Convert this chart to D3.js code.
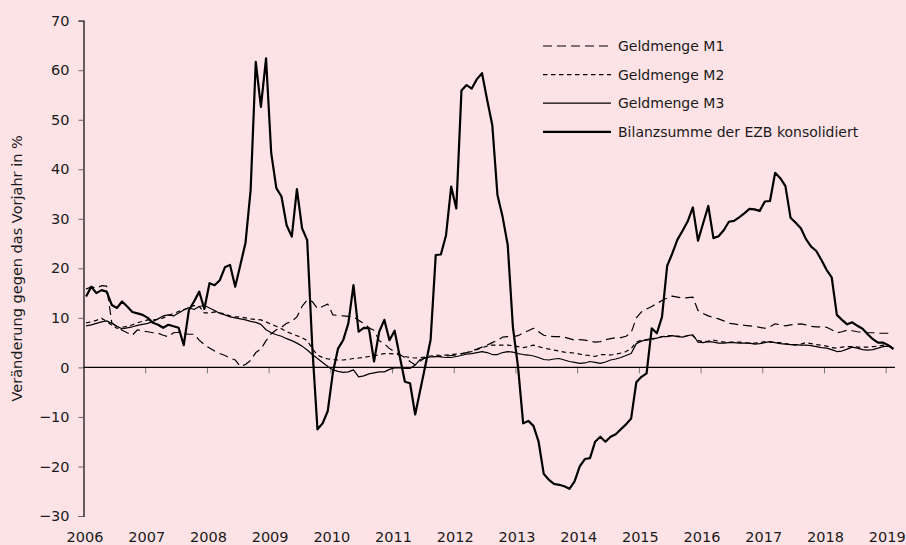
<!DOCTYPE html>
<html>
<head>
<meta charset="utf-8">
<script src="https://cdn.jsdelivr.net/npm/d3@7"></script>
<style>
  html, body { margin: 0; padding: 0; background: #fee3e6; }
  svg { display: block; }
  text { font-family: "DejaVu Sans", sans-serif; fill: #1a1a1a; }
</style>
</head>
<body>
<div id="chart"></div>
<script>
// monthly values, January 2006 to February 2019
var startYear = 2006;

var m1 = [
  15.8, 16.3, 16.0, 16.5, 16.4, 9.0, 8.2, 7.5, 7.0, 6.5, 7.6, 7.3,
  7.2, 7.0, 6.9, 6.5, 6.2, 7.0, 7.1, 6.8, 6.7, 6.7, 5.5, 4.6,
  3.9, 3.3, 2.8, 2.4, 1.9, 1.5, 0.2, 0.6, 1.4, 3.0, 3.7, 5.4,
  6.8, 7.6, 8.1, 8.9, 9.3, 10.2, 12.3, 13.6, 13.3, 11.9, 12.3, 12.8,
  10.6, 10.5, 10.4, 10.3, 10.2, 9.5, 8.9, 8.0, 7.5, 5.4, 4.8, 3.8,
  3.2, 2.6, 2.0, 1.2, 0.5, 1.3, 2.0, 2.1, 2.2, 2.2, 2.3, 2.4,
  2.5, 2.7, 3.0, 3.3, 3.7, 4.1, 4.5, 5.0, 5.5, 6.1, 6.2, 6.2,
  6.4, 7.0, 7.4, 7.9, 7.2, 6.5, 6.3, 6.2, 6.2, 6.1, 5.8, 5.5,
  5.6, 5.5, 5.3, 5.1, 5.2, 5.6, 5.8, 6.0, 6.0, 6.3, 7.0, 10.0,
  11.2, 11.8, 12.3, 12.9, 13.5, 14.0, 14.4, 14.2, 14.0, 14.1, 14.2, 11.5,
  10.9, 10.4, 10.1, 9.8, 9.4, 8.9, 8.8, 8.6, 8.5, 8.4, 8.3, 8.1,
  7.9, 8.2, 8.8, 8.6, 8.4, 8.6, 8.7, 8.8, 8.6, 8.3, 8.2, 8.2,
  8.1, 7.6, 7.0, 7.2, 7.5, 7.4, 7.2, 7.1, 7.0, 7.0, 6.9, 6.9,
  6.9, 6.9
];

var m2 = [
  9.0, 9.2, 9.5, 9.9, 9.3, 8.5, 7.9, 8.1, 8.3, 8.6, 9.0, 9.3,
  9.6, 9.6, 9.7, 10.0, 10.5, 10.9, 11.3, 11.7, 12.0, 12.5, 12.3, 11.0,
  11.0, 11.2, 11.0, 10.8, 10.4, 10.2, 10.2, 10.0, 9.8, 9.7, 9.6, 9.2,
  8.7, 8.3, 7.8, 7.2, 6.8, 6.4, 6.0, 5.4, 3.8, 2.5, 2.0, 1.7,
  1.6, 1.5, 1.5, 1.6, 1.8, 1.9, 2.0, 2.2, 2.3, 2.6, 2.8, 2.8,
  2.7, 2.5, 2.2, 2.0, 1.9, 2.0, 2.1, 2.3, 2.5, 2.4, 2.5, 2.6,
  2.7, 2.8, 3.0, 3.2, 3.6, 4.0, 4.3, 4.5, 4.5, 4.5, 4.5, 4.4,
  4.2, 4.0, 4.2, 4.5, 4.2, 3.9, 3.7, 3.5, 3.3, 3.1, 3.0, 2.9,
  2.7, 2.5, 2.4, 2.2, 2.6, 2.6, 2.5, 2.7, 2.9, 3.2, 3.8, 5.1,
  5.5, 5.5, 5.6, 5.9, 6.2, 6.4, 6.4, 6.3, 6.2, 6.4, 6.4, 5.4,
  5.2, 5.3, 5.5, 5.3, 5.1, 5.1, 5.1, 5.1, 5.0, 4.9, 4.9, 5.0,
  5.2, 5.1, 5.0, 5.0, 4.8, 4.6, 4.5, 4.7, 5.0, 4.8, 4.6, 4.5,
  4.3, 4.0, 3.9, 4.1, 4.2, 4.2, 4.1, 4.1, 4.1, 4.2, 4.3, 4.5,
  4.3, 4.1
];

var m3 = [
  8.4, 8.6, 8.9, 9.2, 9.4, 8.9, 8.3, 7.8, 8.0, 8.2, 8.5, 8.7,
  8.9, 9.3, 9.8, 10.4, 10.6, 10.4, 11.0, 11.6, 12.1, 11.7, 12.3, 12.5,
  12.0, 11.5, 10.9, 10.6, 10.2, 10.0, 9.8, 9.6, 9.3, 9.1, 8.7, 7.6,
  7.0, 6.6, 6.3, 5.8, 5.4, 4.9, 4.3, 3.5, 2.6, 1.8, 1.0, 0.2,
  -0.5, -0.8, -1.0, -0.9, -0.5, -1.9, -1.7, -1.3, -1.1, -0.9, -0.9, -0.4,
  -0.1, -0.1, -0.2, -0.2, 0.5, 1.6, 1.9, 2.1, 2.2, 2.1, 2.0, 2.0,
  2.2, 2.4, 2.7, 2.8, 3.0, 3.2, 3.0, 2.6, 2.6, 3.0, 3.2, 3.1,
  2.8, 2.6, 2.5, 2.3, 2.0, 1.6, 1.5, 1.7, 1.8, 1.5, 1.2, 1.0,
  0.8, 0.9, 1.2, 1.0, 0.8, 1.1, 1.5, 1.7, 2.0, 2.4, 2.8, 4.8,
  5.3, 5.6, 5.8, 5.9, 6.2, 6.2, 6.4, 6.2, 6.1, 6.4, 6.6, 5.1,
  5.0, 5.2, 5.1, 4.9, 4.9, 5.0, 5.0, 4.9, 4.9, 4.9, 4.7, 4.8,
  5.0, 5.2, 5.0, 4.8, 4.7, 4.6, 4.6, 4.5, 4.5, 4.4, 4.2, 4.0,
  3.9, 3.6, 3.2, 3.3, 3.7, 4.1, 3.9, 3.6, 3.5, 3.6, 3.9, 4.2,
  4.3, 3.9
];

var ezb = [
  14.3, 16.3, 15.0, 15.6, 15.3, 12.6, 12.0, 13.3, 12.3, 11.2, 10.9, 10.6,
  10.0, 9.0, 8.6, 8.0, 8.6, 8.3, 8.0, 4.5, 11.6, 13.3, 15.3, 11.8,
  17.0, 16.6, 17.6, 20.2, 20.7, 16.3, 20.7, 25.1, 35.8, 61.7, 52.6, 62.4,
  43.3, 36.2, 34.5, 28.7, 26.4, 36.0, 28.1, 25.7, 4.0, -12.5, -11.3, -8.8,
  -1.0, 3.8, 5.5, 8.9, 16.6, 7.2, 8.0, 7.9, 1.2, 7.2, 9.6, 5.5,
  7.4, 2.2, -2.9, -3.2, -9.5, -4.5, 0.5, 5.6, 22.7, 22.8, 26.7, 36.5,
  32.1, 55.9, 57.0, 56.3, 58.2, 59.4, 54.0, 48.9, 34.8, 30.4, 24.7, 8.2,
  0.1, -11.3, -10.8, -11.8, -15.0, -21.5, -22.7, -23.5, -23.7, -24.0, -24.5, -23.0,
  -20.0, -18.5, -18.3, -15.0, -14.0, -15.0, -14.0, -13.5, -12.5, -11.5, -10.3, -3.0,
  -1.9, -1.2, 7.9, 6.9, 10.2, 20.5, 23.0, 25.8, 27.6, 29.5, 32.3, 25.6,
  29.1, 32.6, 26.1, 26.5, 27.7, 29.4, 29.6, 30.3, 31.1, 32.0, 31.9, 31.6,
  33.5, 33.6, 39.3, 38.2, 36.6, 30.2, 29.2, 28.1, 25.9, 24.4, 23.5, 21.7,
  19.7, 18.2, 10.6, 9.6, 8.7, 9.1, 8.4, 7.8, 6.7, 5.7, 5.0, 5.0,
  4.5, 3.7
];

var years = d3.range(2006, 2020);
var yTicks = d3.range(-30, 71, 10);

var seriesNames = ["Geldmenge M1", "Geldmenge M2", "Geldmenge M3", "Bilanzsumme der EZB konsolidiert"];

// line style per series (same order as seriesNames)
var styles = [
  { width: 1.2, dash: "9,5" },
  { width: 1.2, dash: "4.5,3.5" },
  { width: 1.2, dash: null },
  { width: 2.2, dash: null }
];

var W = 906, H = 545;

var svg = d3.select("#chart")
    .append("svg")
    .attr("width", W)
    .attr("height", H);

svg.append("rect")
    .attr("width", W)
    .attr("height", H)
    .attr("fill", "#fee3e6");

// Scales
var x = d3.scaleLinear().domain([2006, 2019]).range([83.5, 885.7]);
var y = d3.scaleLinear().domain([-30, 70]).range([516, 20.7]);
var xEnd = x(2019 + 1.8 / 12);

// Y axis
var yAxis = svg.append("g")
    .attr("transform", "translate(" + x(2006) + ",0)")
    .call(d3.axisLeft(y).tickValues(yTicks).tickSize(5).tickPadding(9).tickFormat(d3.format("d")));
yAxis.select(".domain").attr("stroke", "#000").attr("stroke-width", 1.2);
yAxis.selectAll(".tick line").attr("stroke", "#666");
yAxis.selectAll(".tick text")
    .style("font-size", "14.5px")
    .style("font-family", "'DejaVu Sans', sans-serif")
    .attr("fill", "#1a1a1a");

// zero line with year ticks
var xAxis = svg.append("g")
    .attr("transform", "translate(0," + y(0) + ")")
    .call(d3.axisBottom(x).tickValues(years).tickSize(6).tickFormat(""));
xAxis.select(".domain").remove();
xAxis.selectAll(".tick line").attr("stroke", "#777");
xAxis.selectAll(".tick").filter(function(d) { return d === 2006; }).remove();

svg.append("line")
    .attr("x1", x(2006))
    .attr("x2", xEnd)
    .attr("y1", y(0))
    .attr("y2", y(0))
    .attr("stroke", "#000")
    .attr("stroke-width", 1.4);

// year labels at the bottom
svg.append("g")
    .selectAll("text")
    .data(years)
    .enter()
    .append("text")
    .attr("x", function(d) { return x(d) + 1.5; })
    .attr("y", 542)
    .attr("text-anchor", "middle")
    .style("font-size", "14.5px")
    .text(function(d) { return d; });

// y axis title
svg.append("text")
    .attr("transform", "translate(22," + ((y(70) + y(-30)) / 2) + ") rotate(-90)")
    .attr("text-anchor", "middle")
    .style("font-size", "14.5px")
    .text("Veränderung gegen das Vorjahr in %");

// Lines
var line = d3.line()
    .x(function(d, i) { return x(startYear + (i + 0.5) / 12); })
    .y(function(d) { return y(d); });

var allSeries = [m1, m2, m3, ezb];

svg.append("g")
    .selectAll("path")
    .data(allSeries)
    .enter()
    .append("path")
    .attr("d", function(d) { return line(d); })
    .attr("fill", "none")
    .attr("stroke", "#000")
    .attr("stroke-linejoin", "round")
    .attr("stroke-width", function(d, i) { return styles[i].width; })
    .attr("stroke-dasharray", function(d, i) { return styles[i].dash; });

// Legend
var legend = svg.append("g")
    .selectAll("g")
    .data(seriesNames)
    .enter()
    .append("g")
    .attr("transform", function(d, i) { return "translate(543," + (46 + i * 28.6) + ")"; });

legend.append("line")
    .attr("x1", 0)
    .attr("x2", 68)
    .attr("stroke", "#000")
    .attr("stroke-width", function(d, i) { return styles[i].width; })
    .attr("stroke-dasharray", function(d, i) { return styles[i].dash; });

legend.append("text")
    .attr("x", 75)
    .attr("dy", "0.35em")
    .style("font-size", "14px")
    .text(function(d) { return d; });
</script>
</body>
</html>
